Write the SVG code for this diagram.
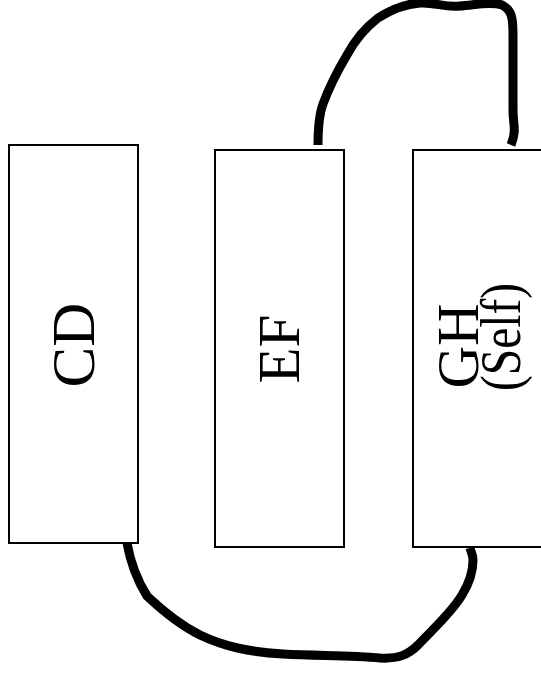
<svg xmlns="http://www.w3.org/2000/svg" width="541" height="678" viewBox="0 0 541 678">
<style>
.box{fill:#fff;stroke:#000;stroke-width:2}
.lbl{font-family:"Liberation Serif","Times New Roman",serif;fill:#000;text-anchor:middle}
.link{fill:none;stroke:#000;stroke-width:9;stroke-linejoin:round;stroke-linecap:butt}
</style>
<rect width="541" height="678" fill="#fff"/>
<g id="connectors">
<path class="link" d="M318,145 C318,130 319,115 323,104 C330,85 338,70 347,55 C355,40 365,28 378,18 C392,9 405,4 420,3 C435,2 445,8 460,6 C475,5 490,1 502,5 C512,10 513,18 513,35 L513,110 C513,125 517,130 511,145"/>
<path class="link" d="M127,543 C130,560 137,580 147,596 C165,613 180,625 200,635 C225,647 250,652 283,654 C320,656 350,655 380,658 C398,659 408,655 418,645 C435,627 452,612 462,595 C470,582 473,570 473,560 C473,555 471,552 470,548"/>
</g>
<g id="CD">
<rect class="box" x="9" y="145" width="129" height="398"/>
<text class="lbl" font-size="61" transform="translate(94,345) rotate(-90)">CD</text>
</g>
<g id="EF">
<rect class="box" x="215" y="150" width="129" height="397"/>
<text class="lbl" font-size="59" transform="translate(299,349) rotate(-90)">EF</text>
</g>
<g id="GH">
<rect class="box" x="413" y="150" width="140" height="397"/>
<text class="lbl" font-size="59" transform="translate(478,346) rotate(-90)">GH</text>
<text class="lbl" font-size="57" transform="translate(520,337) rotate(-90)" textLength="108" lengthAdjust="spacingAndGlyphs">(Self)</text>
</g>
</svg>
